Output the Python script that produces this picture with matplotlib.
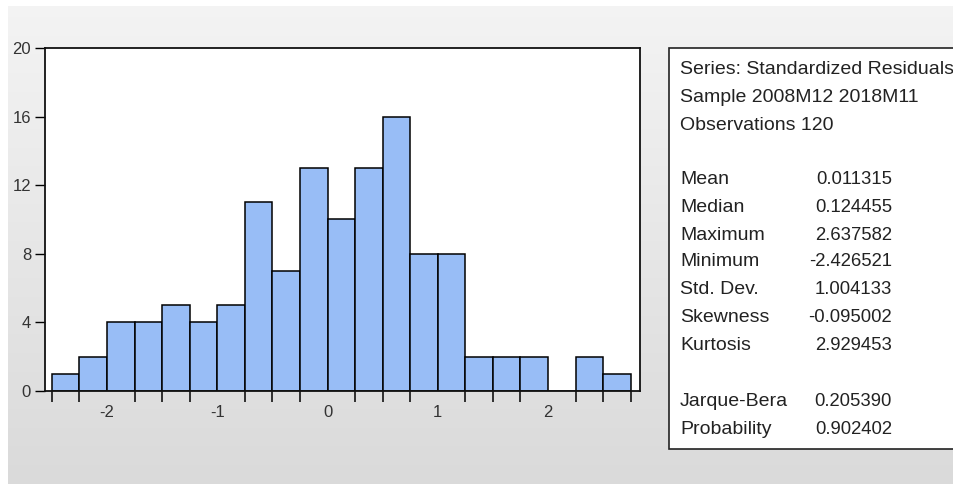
import numpy as np
import matplotlib
matplotlib.use("Agg")
import matplotlib.pyplot as plt
from matplotlib.patches import Rectangle

plt.rcParams["axes.unicode_minus"] = False

# Data
bin_edges_start = -2.5
bin_width = 0.25
counts = [1, 2, 4, 4, 5, 4, 5, 11, 7, 13, 10, 13, 16, 8, 8, 2, 2, 2, 0, 2, 1]
x_ticks = [-2, -1, 0, 1, 2]
y_ticks = [0, 4, 8, 12, 16, 20]
header_lines = ["Series: Standardized Residuals", "Sample 2008M12 2018M11", "Observations 120"]
stat_names = ["Mean", "Median", "Maximum", "Minimum", "Std. Dev.", "Skewness", "Kurtosis"]
stat_values = ["0.011315", "0.124455", "2.637582", "-2.426521", "1.004133", "-0.095002", "2.929453"]
test_names = ["Jarque-Bera", "Probability"]
test_values = ["0.205390", "0.902402"]

W, H = 954, 484
fig = plt.figure(figsize=(W / 100, H / 100), dpi=100)
fig.patch.set_facecolor("white")

# background gradient
bg = fig.add_axes([8 / W, 0, 1 - 8 / W, 1 - 6 / H], zorder=-10)
grad = np.linspace(0.955, 0.855, 256).reshape(-1, 1)
bg.imshow(np.dstack([grad, grad, grad]), aspect="auto", extent=[0, 1, 0, 1], origin="upper")
bg.axis("off")

left, right, top, bottom = 45, 640, 48, 391
ax = fig.add_axes([left / W, 1 - bottom / H, (right - left) / W, (bottom - top) / H])
ax.set_facecolor("white")

edges = bin_edges_start + bin_width * np.arange(len(counts) + 1)
ax.bar(edges[:-1], counts, width=bin_width, align="edge", color="#98bdf6",
       edgecolor="black", linewidth=1.1, zorder=2)

ax.set_xlim(-2.562, 2.834)
ax.set_ylim(0, 20)
ax.set_xticks(x_ticks)
ax.set_xticks(edges, minor=True)
ax.set_yticks(y_ticks)
ax.set_xticklabels([str(v) for v in x_ticks], family="Liberation Sans", fontsize=12, color="#333333")
ax.set_yticklabels([str(v) for v in y_ticks], family="Liberation Sans", fontsize=12, color="#333333")
ax.tick_params(axis="x", which="major", length=0, pad=10)
ax.tick_params(axis="x", which="minor", length=8, width=1.1, direction="out", color="black")
ax.tick_params(axis="y", which="major", length=7, width=1.0, direction="out", pad=3)
for s in ax.spines.values():
    s.set_linewidth(1.3)
    s.set_color("#111111")

# stats box
bx0, by0 = 669, 48
box = Rectangle((bx0 / W, 1 - 449 / H), (W + 20 - bx0) / W, (449 - by0) / H,
                transform=fig.transFigure, facecolor="white", edgecolor="#222222",
                linewidth=1.2, zorder=1)
fig.patches.append(box)

lkw = dict(fontsize=14, family="Liberation Sans", color="#222222", va="center")
vkw = dict(fontsize=13.3, family="Liberation Sans", color="#222222", va="center")
lx, vx = 680 / W, 892 / W
ys_head = [69, 97, 125]
for t, y in zip(header_lines, ys_head):
    fig.text(lx, 1 - y / H, t, ha="left", **lkw)
ys_stats = [180, 207, 235, 262, 290, 318, 345]
for n, v, y in zip(stat_names, stat_values, ys_stats):
    fig.text(lx, 1 - y / H, n, ha="left", **lkw)
    fig.text(vx, 1 - y / H, v, ha="right", **vkw)
ys_test = [401, 429]
for n, v, y in zip(test_names, test_values, ys_test):
    fig.text(lx, 1 - y / H, n, ha="left", **lkw)
    fig.text(vx, 1 - y / H, v, ha="right", **vkw)

fig.savefig("out.png", dpi=100)
